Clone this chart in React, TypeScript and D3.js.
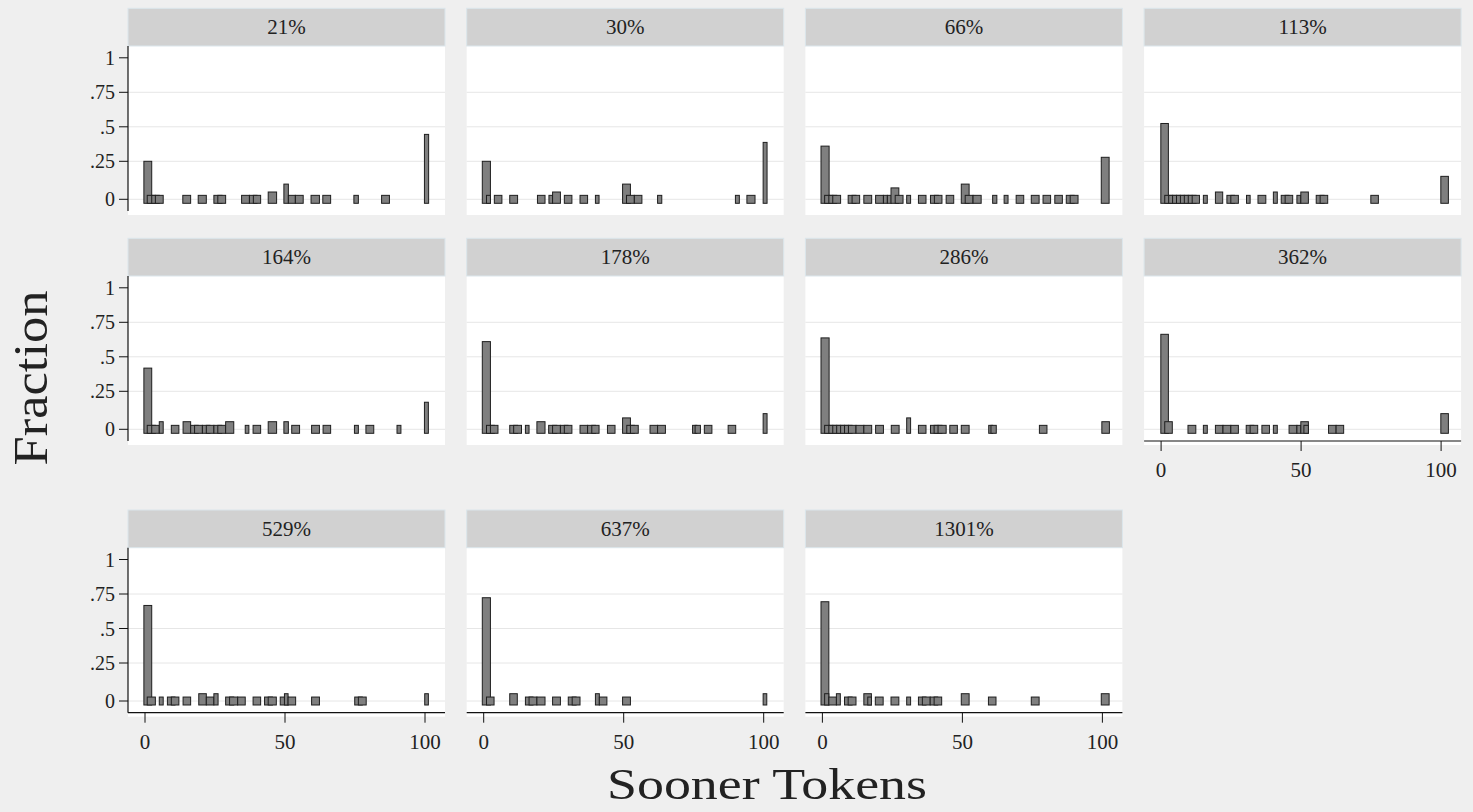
import React from "react";
import * as d3 from "d3";

// Histogram bins per interest-rate group: [token start, token end, fraction]
const panelLabels = ["21%", "30%", "66%", "113%", "164%", "178%", "286%", "362%", "529%", "637%", "1301%"];

const bins21 = [
  [-0.4, 2.4, 0.25], [0.8, 3.7, 0.026], [2.4, 5.1, 0.026], [3.7, 6.5, 0.026],
  [13.5, 16.3, 0.026], [19, 21.9, 0.026], [24.6, 27.5, 0.026], [26, 28.8, 0.026],
  [34.5, 37.3, 0.026], [37.3, 40, 0.026], [38.7, 41.3, 0.026], [44, 47, 0.048],
  [49.6, 51.2, 0.1], [51.2, 53.7, 0.026], [53.7, 56.5, 0.026], [59.3, 62.3, 0.026], [63.5, 66.3, 0.026],
  [74.6, 76.2, 0.026], [84.5, 87.3, 0.026], [99.8, 101.3, 0.445],
];
const bins30 = [
  [-0.5, 2.4, 0.25], [1, 2.4, 0.026], [3.8, 6.5, 0.026], [9.3, 12.1, 0.026], [19.2, 21.9, 0.026],
  [23.3, 24.6, 0.026], [24.6, 27.4, 0.048], [28.8, 31.5, 0.026], [34.4, 37.1, 0.026], [39.9, 41.2, 0.026],
  [49.6, 52.4, 0.1], [51, 53.8, 0.026], [53.8, 56.5, 0.026], [62.1, 63.6, 0.026], [89.9, 91.3, 0.026],
  [94, 96.9, 0.026], [99.8, 101.2, 0.387],
];
const bins66 = [
  [-0.5, 2.4, 0.36], [0.8, 3.7, 0.026], [2.3, 5.1, 0.026], [3.7, 6.5, 0.026],
  [9.2, 12, 0.026], [10.6, 13.3, 0.026], [14.8, 17.6, 0.026],
  [19, 21.8, 0.026], [21.8, 23.2, 0.026], [23.2, 24.6, 0.026], [24.5, 27.3, 0.075], [26, 28.8, 0.026],
  [30.1, 31.5, 0.026], [34.3, 37, 0.026], [38.6, 41.4, 0.026], [40, 42.7, 0.026], [44.2, 46.9, 0.026],
  [49.6, 52.4, 0.1], [51, 53.8, 0.026], [53.8, 56.7, 0.026], [60.8, 62.3, 0.026], [64.9, 66.3, 0.026],
  [69.2, 71.9, 0.026], [74.6, 77.4, 0.026], [78.8, 81.5, 0.026], [83, 85.7, 0.026], [87.1, 89.9, 0.026],
  [88.5, 91.3, 0.026], [99.6, 102.4, 0.279],
];
const bins113 = [
  [-0.1, 2.6, 0.524], [1.3, 4.1, 0.026], [2.7, 5.5, 0.026], [4.1, 6.9, 0.026], [5.5, 8.3, 0.026],
  [6.9, 9.7, 0.026], [8.3, 11.1, 0.026], [9.7, 12.5, 0.026], [11.1, 13.7, 0.026],
  [15.1, 16.5, 0.026], [19.4, 22, 0.048], [23.5, 26.2, 0.026], [24.9, 27.6, 0.026], [30.5, 31.8, 0.026],
  [34.6, 37.4, 0.026], [40.1, 41.5, 0.048], [42.9, 45.7, 0.026], [44.3, 47, 0.026], [48.5, 49.9, 0.026],
  [49.9, 52.6, 0.048], [55.4, 58.2, 0.026], [56.8, 59.5, 0.026], [74.9, 77.6, 0.026], [99.9, 102.6, 0.151],
];
const bins164 = [
  [-0.4, 2.4, 0.418], [0.8, 3.7, 0.026], [2.4, 5.1, 0.026], [5.1, 6.5, 0.05], [9.4, 12.1, 0.026],
  [13.6, 16.3, 0.05], [16.3, 19, 0.026], [17.7, 20.5, 0.026], [20.5, 23.2, 0.026], [21.9, 24.6, 0.026],
  [24.6, 27.4, 0.026], [26, 28.8, 0.026], [28.8, 31.7, 0.05], [35.8, 37.1, 0.026], [38.6, 41.3, 0.026],
  [44, 47, 0.05], [49.6, 51.2, 0.05], [52.4, 55.2, 0.026], [59.5, 62.3, 0.026], [63.6, 66.3, 0.026],
  [74.8, 76.2, 0.026], [78.9, 81.7, 0.026], [90, 91.4, 0.026], [99.8, 101.2, 0.178],
];
const bins178 = [
  [-0.5, 2.4, 0.61], [1, 3.8, 0.026], [2.4, 5.1, 0.026], [9.3, 12.1, 0.026], [10.7, 13.5, 0.026],
  [14.9, 16.2, 0.026], [19, 21.9, 0.05], [23.2, 26.1, 0.026], [24.6, 27.4, 0.026], [27.4, 30.1, 0.026],
  [28.8, 31.5, 0.026], [34.4, 37.1, 0.026], [37.1, 39.9, 0.026], [38.6, 41.2, 0.026], [44.2, 46.9, 0.026],
  [49.6, 52.4, 0.075], [51.1, 53.8, 0.026], [52.4, 55.2, 0.026], [59.4, 62.1, 0.026], [62.1, 64.9, 0.026],
  [74.6, 76.1, 0.026], [75.5, 77.4, 0.026], [78.8, 81.5, 0.026], [87.3, 90, 0.026], [99.8, 101.2, 0.103],
];
const bins286 = [
  [-0.5, 2.4, 0.637], [0.8, 3.7, 0.026], [2.3, 5.1, 0.026], [3.7, 6.5, 0.026], [5.1, 7.9, 0.026],
  [6.5, 9.3, 0.026], [7.9, 10.6, 0.026], [9.3, 12, 0.026], [12, 14.8, 0.026], [14.8, 17.6, 0.026],
  [19, 21.8, 0.026], [24.6, 27.4, 0.026], [30.1, 31.5, 0.075], [34.3, 37, 0.026], [38.6, 41.3, 0.026],
  [39.9, 42.7, 0.026], [41.3, 44.2, 0.026], [45.5, 48.2, 0.026], [49.6, 52.4, 0.026], [59.4, 60.8, 0.026],
  [60.2, 62.1, 0.026], [77.5, 80.2, 0.026], [99.8, 102.5, 0.05],
];
const bins362 = [
  [-0.1, 2.6, 0.663], [1.3, 4, 0.05], [9.6, 12.4, 0.026], [15.1, 16.5, 0.026], [19.4, 22.1, 0.026],
  [22.1, 24.9, 0.026], [24.9, 27.6, 0.026], [30.4, 33.1, 0.026], [31.8, 34.5, 0.026], [36, 38.7, 0.026],
  [40.1, 41.5, 0.026], [45.7, 48.5, 0.026], [48.5, 49.9, 0.026], [49.9, 52.6, 0.05], [51, 52.6, 0.026],
  [59.8, 62.5, 0.026], [62.5, 65.2, 0.026], [99.9, 102.6, 0.103],
];
const bins529 = [
  [-0.4, 2.4, 0.667], [0.8, 3.7, 0.026], [5.1, 6.5, 0.026], [8, 10.7, 0.026], [9.4, 12.1, 0.026],
  [13.6, 16.3, 0.026], [19.2, 21.9, 0.048], [21.9, 24.6, 0.026], [24.6, 26.1, 0.048], [28.8, 31.7, 0.026],
  [30.2, 33.1, 0.026], [33.1, 35.8, 0.026], [38.6, 41.3, 0.026], [42.7, 45.5, 0.026], [44, 46.9, 0.026],
  [48.3, 51.1, 0.026], [49.8, 51.1, 0.048], [51.1, 53.8, 0.026], [59.5, 62.3, 0.026], [74.9, 77.6, 0.026],
  [76.2, 79, 0.026], [99.9, 101.2, 0.048],
];
const bins637 = [
  [-0.5, 2.4, 0.723], [1, 3.7, 0.026], [9.3, 12, 0.048], [14.9, 17.6, 0.026], [16.2, 19, 0.026],
  [19, 21.9, 0.026], [24.6, 27.4, 0.026], [30.2, 33, 0.026], [31.6, 34.4, 0.026], [39.9, 41.3, 0.048],
  [41.3, 44, 0.026], [49.6, 52.4, 0.026], [99.8, 101.1, 0.048],
];
const bins1301 = [
  [-0.5, 2.3, 0.694], [0.8, 2.3, 0.048], [2.3, 5, 0.026], [5, 6.4, 0.048], [7.9, 10.6, 0.026],
  [9.2, 12, 0.026], [14.8, 17.5, 0.048], [16.2, 17.5, 0.026], [18.9, 21.7, 0.026], [24.5, 27.3, 0.026],
  [30.1, 31.5, 0.026], [34.3, 37, 0.026], [35.7, 38.5, 0.026], [38.5, 41.2, 0.026], [39.9, 42.6, 0.026],
  [49.6, 52.4, 0.048], [59.3, 62, 0.026], [74.6, 77.4, 0.026], [99.6, 102.4, 0.048],
];

const panelBins = [bins21, bins30, bins66, bins113, bins164, bins178, bins286, bins362, bins529, bins637, bins1301];

const yTicks = [0, 0.25, 0.5, 0.75, 1];
const yTickLabels = ["0", ".25", ".5", ".75", "1"];
const yGrid = [0, 0.25, 0.5, 0.75];
const xTicks = [0, 50, 100];

const W = 1473;
const H = 812;
const FONT = "'Liberation Serif', 'Times New Roman', serif";
const BAR_BASE = -0.03;

const colStart = 128;
const colStep = 338.7;
const panelW = 317;
const rowTops = [8.3, 238.3, 510];
const stripH = 37.7;
const NCOL = 4;

function Panel({ index }: { index: number }) {
  const col = index % NCOL;
  const row = Math.floor(index / NCOL);
  const L = colStart + col * colStep;
  const T = rowTops[row];
  const hasXAxis = index + NCOL >= panelBins.length;
  const hasYAxis = col === 0;

  const x = d3.scaleLinear().domain([0, 100]).range([L + 17, L + 297]);
  const y = d3.scaleLinear().domain([BAR_BASE, 0, 0.25, 1]).range([T + 195, T + 191, T + 153, T + 49.5]);
  const axisY = T + 202.7;

  return (
    <g>
      <rect x={L} y={T + stripH} width={panelW} height={206.7 - stripH} fill="#ffffff" />
      <rect x={L} y={T} width={panelW} height={stripH} fill="#d1d1d1" stroke="#dbe6ec" strokeWidth={1} />
      <text x={L + panelW / 2} y={T + 26} textAnchor="middle" fontFamily={FONT} fontSize={21} fill="#222">
        {panelLabels[index]}
      </text>
      {yGrid.map((v) => (
        <line key={v} x1={L} x2={L + panelW} y1={y(v)} y2={y(v)} stroke="#e6e6e6" strokeWidth={1} />
      ))}
      {panelBins[index].map((b, i) => (
        <rect
          key={i}
          x={x(b[0])}
          y={y(b[2])}
          width={x(b[1]) - x(b[0])}
          height={y(BAR_BASE) - y(b[2])}
          fill="#7f7f7f"
          stroke="#1e1e1e"
          strokeWidth={1}
        />
      ))}
      {hasYAxis && (
        <g>
          <line x1={L} x2={L} y1={T + stripH} y2={axisY} stroke="#111" strokeWidth={1.2} />
          {yTicks.map((v, i) => (
            <g key={v}>
              <line x1={L - 9} x2={L} y1={y(v)} y2={y(v)} stroke="#111" strokeWidth={1} />
              <text x={L - 13} y={y(v)} dy="0.35em" textAnchor="end" fontFamily={FONT} fontSize={20} fill="#222">
                {yTickLabels[i]}
              </text>
            </g>
          ))}
        </g>
      )}
      {hasXAxis && (
        <g>
          <line x1={L} x2={L + panelW} y1={axisY} y2={axisY} stroke="#111" strokeWidth={1.2} />
          {xTicks.map((v) => (
            <g key={v}>
              <line x1={x(v)} x2={x(v)} y1={axisY} y2={axisY + 10} stroke="#111" strokeWidth={1} />
              <text x={x(v)} y={axisY + 36} textAnchor="middle" fontFamily={FONT} fontSize={21} fill="#222">
                {v}
              </text>
            </g>
          ))}
        </g>
      )}
    </g>
  );
}

export default function App() {
  return (
    <svg
      width={W}
      height={H}
      viewBox={`0 0 ${W} ${H}`}
      style={{ position: "absolute", left: 0, top: 0, display: "block" }}
    >
      <rect x={0} y={0} width={W} height={H} fill="#efefef" />
      {panelBins.map((_, i) => (
        <Panel key={i} index={i} />
      ))}
      <text
        transform="translate(47,378) rotate(-90)"
        textAnchor="middle"
        fontFamily={FONT}
        fontSize={48}
        fill="#222"
        textLength={175}
        lengthAdjust="spacingAndGlyphs"
      >
        Fraction
      </text>
      <text
        x={767}
        y={799}
        textAnchor="middle"
        fontFamily={FONT}
        fontSize={45}
        fill="#222"
        textLength={320}
        lengthAdjust="spacingAndGlyphs"
      >
        Sooner Tokens
      </text>
    </svg>
  );
}
